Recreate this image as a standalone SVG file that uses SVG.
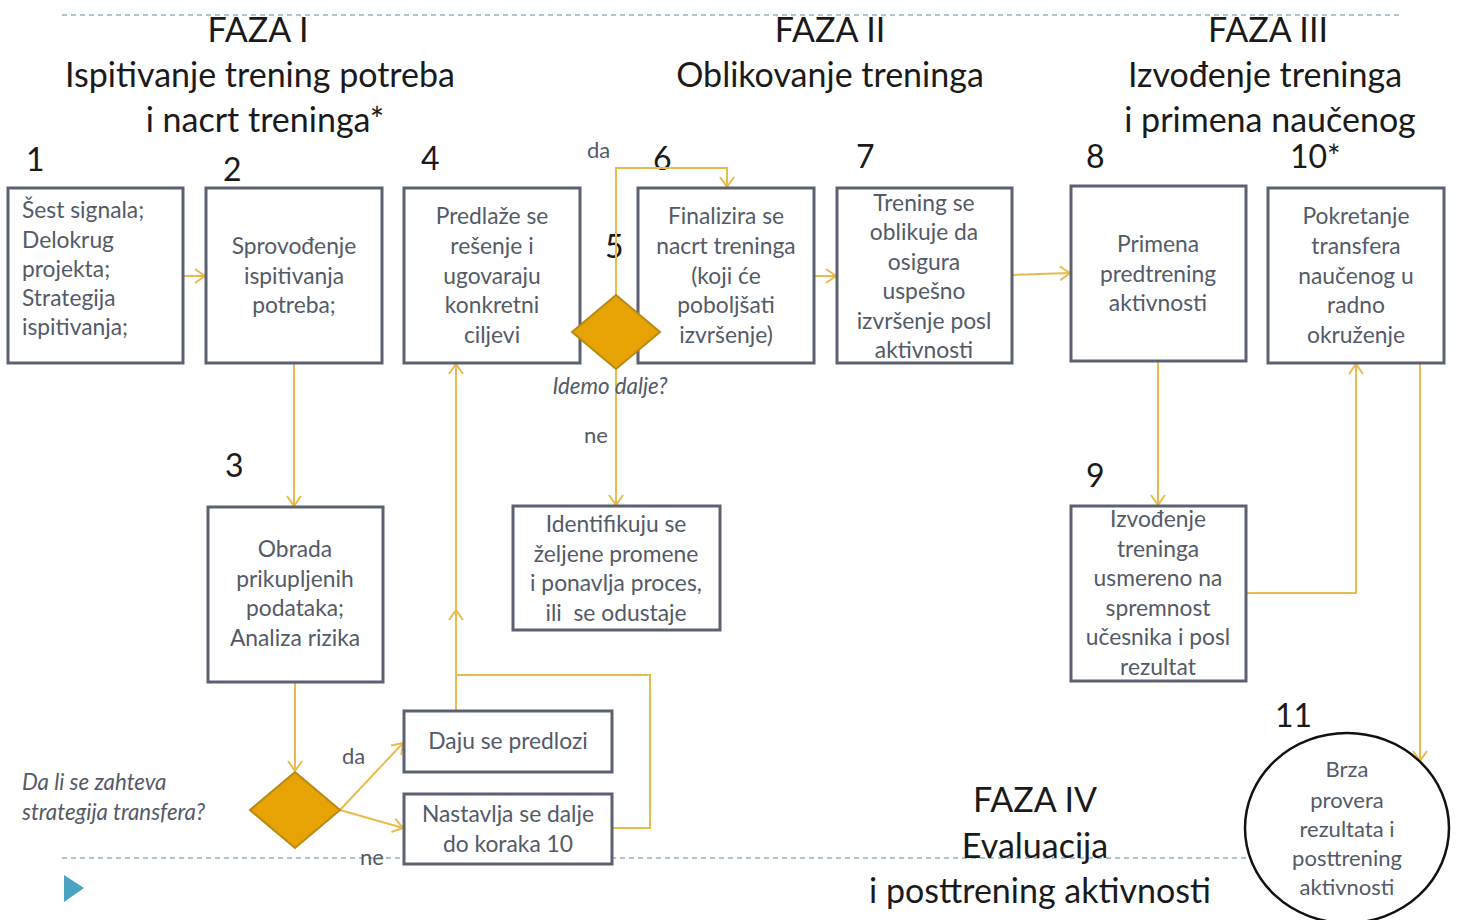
<svg xmlns="http://www.w3.org/2000/svg" width="1458" height="920" viewBox="0 0 1458 920">
<defs>
<marker id="arr" markerUnits="userSpaceOnUse" markerWidth="16" markerHeight="16" refX="12" refY="8" orient="auto">
<path d="M2,1 L12,8 L2,15" fill="none" stroke="#e9bb4c" stroke-width="2"/>
</marker>
<style>
.box{fill:#fff;stroke:#5b6170;stroke-width:3}
.t{font-family:Lato,"Open Sans",sans-serif;font-size:22.8px;fill:#535a68;text-anchor:middle}
.tl{font-family:Lato,"Open Sans",sans-serif;font-size:22.8px;fill:#535a68}
.it{font-family:Lato,"Open Sans",sans-serif;font-size:22.3px;fill:#535a68;font-style:italic}
.h{font-family:Lato,"Open Sans",sans-serif;font-size:34px;fill:#1a1a1a;text-anchor:middle}
.n{font-family:Lato,"Open Sans",sans-serif;font-size:32px;fill:#1a1a1a}
.lbl{font-family:Lato,"Open Sans",sans-serif;font-size:22px;fill:#535a68}
.c{fill:none;stroke:#e9bb4c;stroke-width:2}
.dash{stroke:#8fb2c2;stroke-width:1.5;stroke-dasharray:5,4;fill:none}
.dia{fill:#e6a303;stroke:#b98a12;stroke-width:2}
</style>
</defs>
<rect width="1458" height="920" fill="#fff"/>
<line class="dash" x1="62" y1="15" x2="1400" y2="15"/>
<line class="dash" x1="62" y1="858" x2="1250" y2="858"/>
<polygon points="64,875 84,888 64,902" fill="#4ba3c3"/>

<g id="headers">
<text class="h" x="258" y="42">FAZA I</text>
<text class="h" x="260" y="87">Ispitivanje trening potreba</text>
<text class="h" x="265" y="132">i nacrt treninga*</text>
<text class="h" x="830" y="42">FAZA II</text>
<text class="h" x="830" y="87">Oblikovanje treninga</text>
<text class="h" x="1268" y="42">FAZA III</text>
<text class="h" x="1265" y="87">Izvođenje treninga</text>
<text class="h" x="1270" y="132">i primena naučenog</text>
<text class="h" x="1035" y="812">FAZA IV</text>
<text class="h" x="1035" y="858">Evaluacija</text>
<text class="h" x="1040" y="903">i posttrening aktivnosti</text>
</g>

<g id="numbers">
<text class="n" x="26" y="171">1</text>
<text class="n" x="223" y="181">2</text>
<text class="n" x="421" y="170">4</text>
<text class="n" x="605" y="258">5</text>
<text class="n" x="653" y="170">6</text>
<text class="n" x="856" y="168">7</text>
<text class="n" x="1086" y="168">8</text>
<text class="n" x="1290" y="168">10*</text>
<text class="n" x="225" y="477">3</text>
<text class="n" x="1086" y="487">9</text>
<text class="n" x="1275" y="727">11</text>
</g>

<g id="connectors">
<line class="c" x1="183" y1="276" x2="205" y2="276" marker-end="url(#arr)"/>
<line class="c" x1="294" y1="363" x2="294" y2="506" marker-end="url(#arr)"/>
<line class="c" x1="295" y1="682" x2="295" y2="771" marker-end="url(#arr)"/>
<line class="c" x1="340" y1="810" x2="403" y2="743" marker-end="url(#arr)"/>
<line class="c" x1="340" y1="810" x2="403" y2="828" marker-end="url(#arr)"/>
<polyline class="c" points="612,828 650,828 650,675 456,675"/>
<line class="c" x1="456" y1="711" x2="456" y2="675"/>
<line class="c" x1="456" y1="675" x2="456" y2="610" marker-end="url(#arr)"/>
<line class="c" x1="456" y1="612" x2="456" y2="364" marker-end="url(#arr)"/>
<polyline class="c" points="616,295 616,168 727,168 727,187" marker-end="url(#arr)"/>
<line class="c" x1="616" y1="370" x2="616" y2="505" marker-end="url(#arr)"/>
<line class="c" x1="814" y1="276" x2="836" y2="276" marker-end="url(#arr)"/>
<line class="c" x1="1012" y1="275" x2="1070" y2="273" marker-end="url(#arr)"/>
<line class="c" x1="1158" y1="361" x2="1158" y2="505" marker-end="url(#arr)"/>
<polyline class="c" points="1246,593 1356,593 1356,364" marker-end="url(#arr)"/>
<line class="c" x1="1420" y1="363" x2="1420" y2="761" marker-end="url(#arr)"/>
<text class="lbl" x="587" y="158">da</text>
<text class="lbl" x="584" y="443">ne</text>
<text class="lbl" x="342" y="764">da</text>
<text class="lbl" x="360" y="865">ne</text>
</g>

<g id="n1">
<rect class="box" x="8" y="188" width="175" height="175"/>
<text class="tl" x="22" y="218">Šest signala;</text>
<text class="tl" x="22" y="248">Delokrug</text>
<text class="tl" x="22" y="277">projekta;</text>
<text class="tl" x="22" y="306">Strategija</text>
<text class="tl" x="22" y="335">ispitivanja;</text>
</g>
<g id="n2">
<rect class="box" x="206" y="188" width="176" height="175"/>
<text class="t" x="294" y="254">Sprovođenje</text>
<text class="t" x="294" y="284">ispitivanja</text>
<text class="t" x="294" y="313">potreba;</text>
</g>
<g id="n4">
<rect class="box" x="404" y="188" width="176" height="175"/>
<text class="t" x="492" y="224">Predlaže se</text>
<text class="t" x="492" y="254">rešenje i</text>
<text class="t" x="492" y="284">ugovaraju</text>
<text class="t" x="492" y="313">konkretni</text>
<text class="t" x="492" y="343">ciljevi</text>
</g>
<g id="n6">
<rect class="box" x="638" y="188" width="176" height="175"/>
<text class="t" x="726" y="224">Finalizira se</text>
<text class="t" x="726" y="254">nacrt treninga</text>
<text class="t" x="726" y="284">(koji će</text>
<text class="t" x="726" y="313">poboljšati</text>
<text class="t" x="726" y="343">izvršenje)</text>
</g>
<g id="n5">
<polygon class="dia" points="616,295 660,332 616,369 572,332"/>
<text class="it" x="610" y="394" text-anchor="middle">Idemo dalje?</text>
</g>
<g id="n7">
<rect class="box" x="837" y="188" width="175" height="175"/>
<text class="t" x="924" y="211">Trening se</text>
<text class="t" x="924" y="240">oblikuje da</text>
<text class="t" x="924" y="270">osigura</text>
<text class="t" x="924" y="299">uspešno</text>
<text class="t" x="924" y="329">izvršenje posl</text>
<text class="t" x="924" y="358">aktivnosti</text>
</g>
<g id="n8">
<rect class="box" x="1071" y="186" width="175" height="175"/>
<text class="t" x="1158" y="252">Primena</text>
<text class="t" x="1158" y="282">predtrening</text>
<text class="t" x="1158" y="311">aktivnosti</text>
</g>
<g id="n10">
<rect class="box" x="1268" y="188" width="176" height="175"/>
<text class="t" x="1356" y="224">Pokretanje</text>
<text class="t" x="1356" y="254">transfera</text>
<text class="t" x="1356" y="284">naučenog u</text>
<text class="t" x="1356" y="313">radno</text>
<text class="t" x="1356" y="343">okruženje</text>
</g>
<g id="n3">
<rect class="box" x="208" y="507" width="175" height="175"/>
<text class="t" x="295" y="557">Obrada</text>
<text class="t" x="295" y="587">prikupljenih</text>
<text class="t" x="295" y="616">podataka;</text>
<text class="t" x="295" y="646">Analiza rizika</text>
</g>
<g id="n9">
<rect class="box" x="1071" y="506" width="175" height="175"/>
<text class="t" x="1158" y="527">Izvođenje</text>
<text class="t" x="1158" y="557">treninga</text>
<text class="t" x="1158" y="586">usmereno na</text>
<text class="t" x="1158" y="616">spremnost</text>
<text class="t" x="1158" y="645">učesnika i posl</text>
<text class="t" x="1158" y="675">rezultat</text>
</g>
<g id="nId">
<rect class="box" x="513" y="506" width="207" height="124"/>
<text class="t" x="616" y="532">Identifikuju se</text>
<text class="t" x="616" y="562">željene promene</text>
<text class="t" x="616" y="591">i ponavlja proces,</text>
<text class="t" x="616" y="621" xml:space="preserve">ili  se odustaje</text>
</g>
<g id="nDa">
<polygon class="dia" points="295,772 340,810 295,848 250,810"/>
<text class="it" x="22" y="790">Da li se zahteva</text>
<text class="it" x="22" y="820">strategija transfera?</text>
</g>
<g id="nDaju">
<rect class="box" x="404" y="711" width="208" height="61"/>
<text class="t" x="508" y="749">Daju se predlozi</text>
</g>
<g id="nNast">
<rect class="box" x="404" y="794" width="208" height="70"/>
<text class="t" x="508" y="822">Nastavlja se dalje</text>
<text class="t" x="508" y="852">do koraka 10</text>
</g>
<g id="n11">
<ellipse cx="1347" cy="828" rx="102" ry="95" fill="#fff" stroke="#111" stroke-width="2.5"/>
<text class="t" x="1347" y="777" style="font-size:22px">Brza</text>
<text class="t" x="1347" y="808" style="font-size:22px">provera</text>
<text class="t" x="1347" y="837" style="font-size:22px">rezultata i</text>
<text class="t" x="1347" y="866" style="font-size:22px">posttrening</text>
<text class="t" x="1347" y="895" style="font-size:22px">aktivnosti</text>
</g>
</svg>
